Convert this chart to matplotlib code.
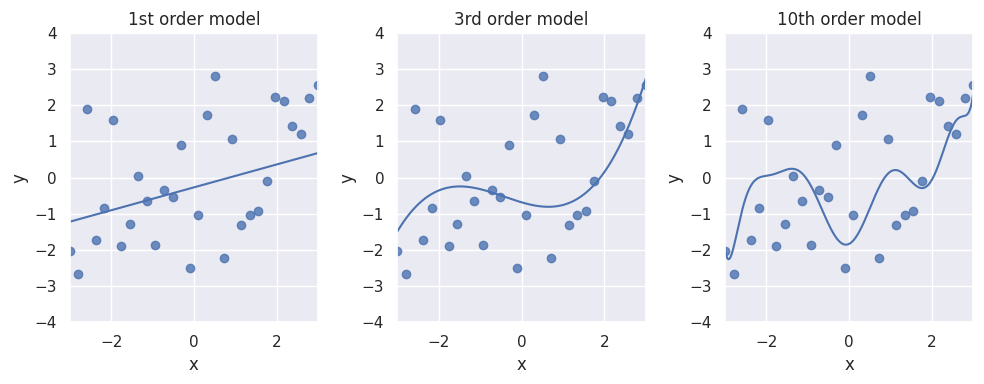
import numpy as np
import matplotlib
matplotlib.use("Agg")
import matplotlib.pyplot as plt
import seaborn as sns

sns.set_theme(style="darkgrid")

# observed points
x = np.linspace(-3, 3, 30)
y = [-2.03, -2.67, 1.91, -1.73, -0.85, 1.60, -1.90, -1.27, 0.04, -0.65,
     -1.87, -0.35, -0.54, 0.89, -2.50, -1.04, 1.72, 2.80, -2.23, 1.06,
     -1.32, -1.04, -0.93, -0.10, 2.24, 2.11, 1.44, 1.20, 2.19, 2.55]

# model curves
fit1_x = [-3.0, 3.0]
fit1_y = [-1.22, 0.68]
fit3_x = [-3.0, -2.72, -2.4, -2.0, -1.45, -0.97, -0.5, 0.0, 0.66, 1.22,
          1.78, 2.26, 2.65, 3.0]
fit3_y = [-1.58, -0.99, -0.53, -0.32, -0.28, -0.35, -0.53, -0.69, -0.81, -0.67,
          -0.17, 0.66, 1.67, 2.65]
fit10_x = [-3.0, -2.93, -2.81, -2.61, -2.37, -2.06, -1.74, -1.38, -1.10, -0.78,
           -0.46, -0.18, -0.02, 0.14, 0.45, 0.77, 1.09, 1.45, 1.77, 2.05,
           2.29, 2.53, 2.77, 2.89, 3.0]
fit10_y = [-1.95, -2.28, -2.01, -0.99, -0.21, 0.02, 0.11, 0.27, 0.11, -0.63,
           -1.36, -1.78, -1.87, -1.68, -0.99, -0.17, 0.20, -0.03, -0.30, 0.02,
           0.84, 1.44, 1.67, 1.86, 2.30]

orders = [1, 3, 10]
titles = ["1st order model", "3rd order model", "10th order model"]
curves = [(fit1_x, fit1_y), (fit3_x, fit3_y), (fit10_x, fit10_y)]

xs = np.linspace(-3, 3, 400)

fig, axes = plt.subplots(1, 3, figsize=(9.84, 3.84), dpi=100)
for ax, deg, title, (cx, cy) in zip(axes, orders, titles, curves):
    p = np.polynomial.Polynomial.fit(cx, cy, deg)
    ax.scatter(x, y, alpha=0.8)
    ax.plot(xs, p(xs))
    ax.set_xlim(-3, 3)
    ax.set_ylim(-4, 4)
    ax.set_yticks(range(-4, 5))
    ax.set_xlabel("x")
    ax.set_ylabel("y")
    ax.set_title(title)

plt.subplots_adjust(left=0.071, right=0.989, top=0.914, bottom=0.161, wspace=0.32)
plt.savefig("out.png")
